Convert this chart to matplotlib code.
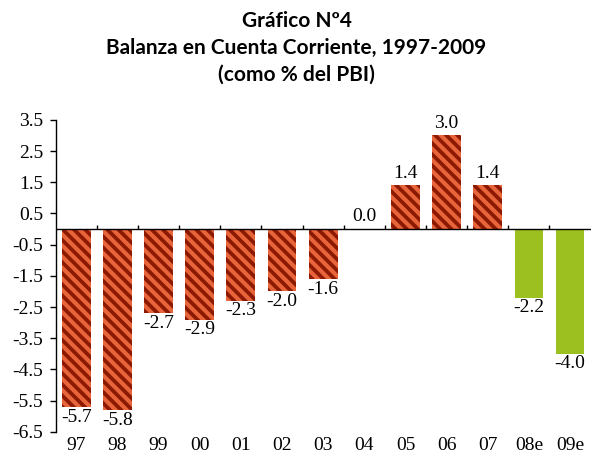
import numpy as np
import matplotlib.pyplot as plt

# Data
years = ['97', '98', '99', '00', '01', '02', '03', '04', '05', '06', '07', '08e', '09e']
values = [-5.7, -5.8, -2.7, -2.9, -2.3, -2.0, -1.6, 0.0, 1.4, 3.0, 1.4, -2.2, -4.0]
estimate = [False] * 11 + [True, True]
yticks = [3.5, 2.5, 1.5, 0.5, -0.5, -1.5, -2.5, -3.5, -4.5, -5.5, -6.5]

plt.rcParams['hatch.linewidth'] = 2.7
plt.rcParams['hatch.color'] = '#8c1a02'

fig = plt.figure(figsize=(5.93, 4.59), dpi=100)
ax = fig.add_axes([0.094, 0.059, 0.902, 0.680])

x = np.arange(len(years))
for xi, v, est in zip(x, values, estimate):
  if est:
    ax.bar(xi, v, width=0.7, color='#9dc021', linewidth=0)
  else:
    ax.bar(xi, v, width=0.7, color='#e8643a', hatch='\\\\\\', edgecolor='#8c1a02', linewidth=0)
  if v >= 0:
    ax.text(xi, v + 0.12, f'{v:.1f}', ha='center', va='bottom',
            fontsize=14, family='Liberation Serif')
  else:
    ax.text(xi, v - 0.05, f'{v:.1f}', ha='center', va='top',
            fontsize=14, family='Liberation Serif')

ax.set_xlim(-0.5, len(years) - 0.5)
ax.set_ylim(-6.5, 3.5)
ax.set_yticks(yticks)
ax.set_yticklabels([f'{t:.1f}' for t in yticks], family='Liberation Serif', fontsize=14)
ax.set_xticks(x)
ax.set_xticklabels(years, family='Liberation Serif', fontsize=14)
ax.tick_params(axis='x', length=0, pad=4)
ax.tick_params(axis='y', length=4, width=1, direction='out', pad=5)

for s in ['top', 'right', 'bottom']:
  ax.spines[s].set_visible(False)
ax.spines['left'].set_linewidth(1)

# zero line with small ticks between categories
ax.axhline(0, color='black', linewidth=1)
ax.vlines(x[:-1] + 0.5, 0, 0.12, color='black', linewidth=1)

fig.text(0.5, 0.975, 'Gráfico Nº4\nBalanza en Cuenta Corriente, 1997-2009\n(como % del PBI)',
         ha='center', va='top', fontsize=15, fontweight='bold', family='Lato',
         linespacing=1.4)

fig.savefig('out.png', dpi=100)
